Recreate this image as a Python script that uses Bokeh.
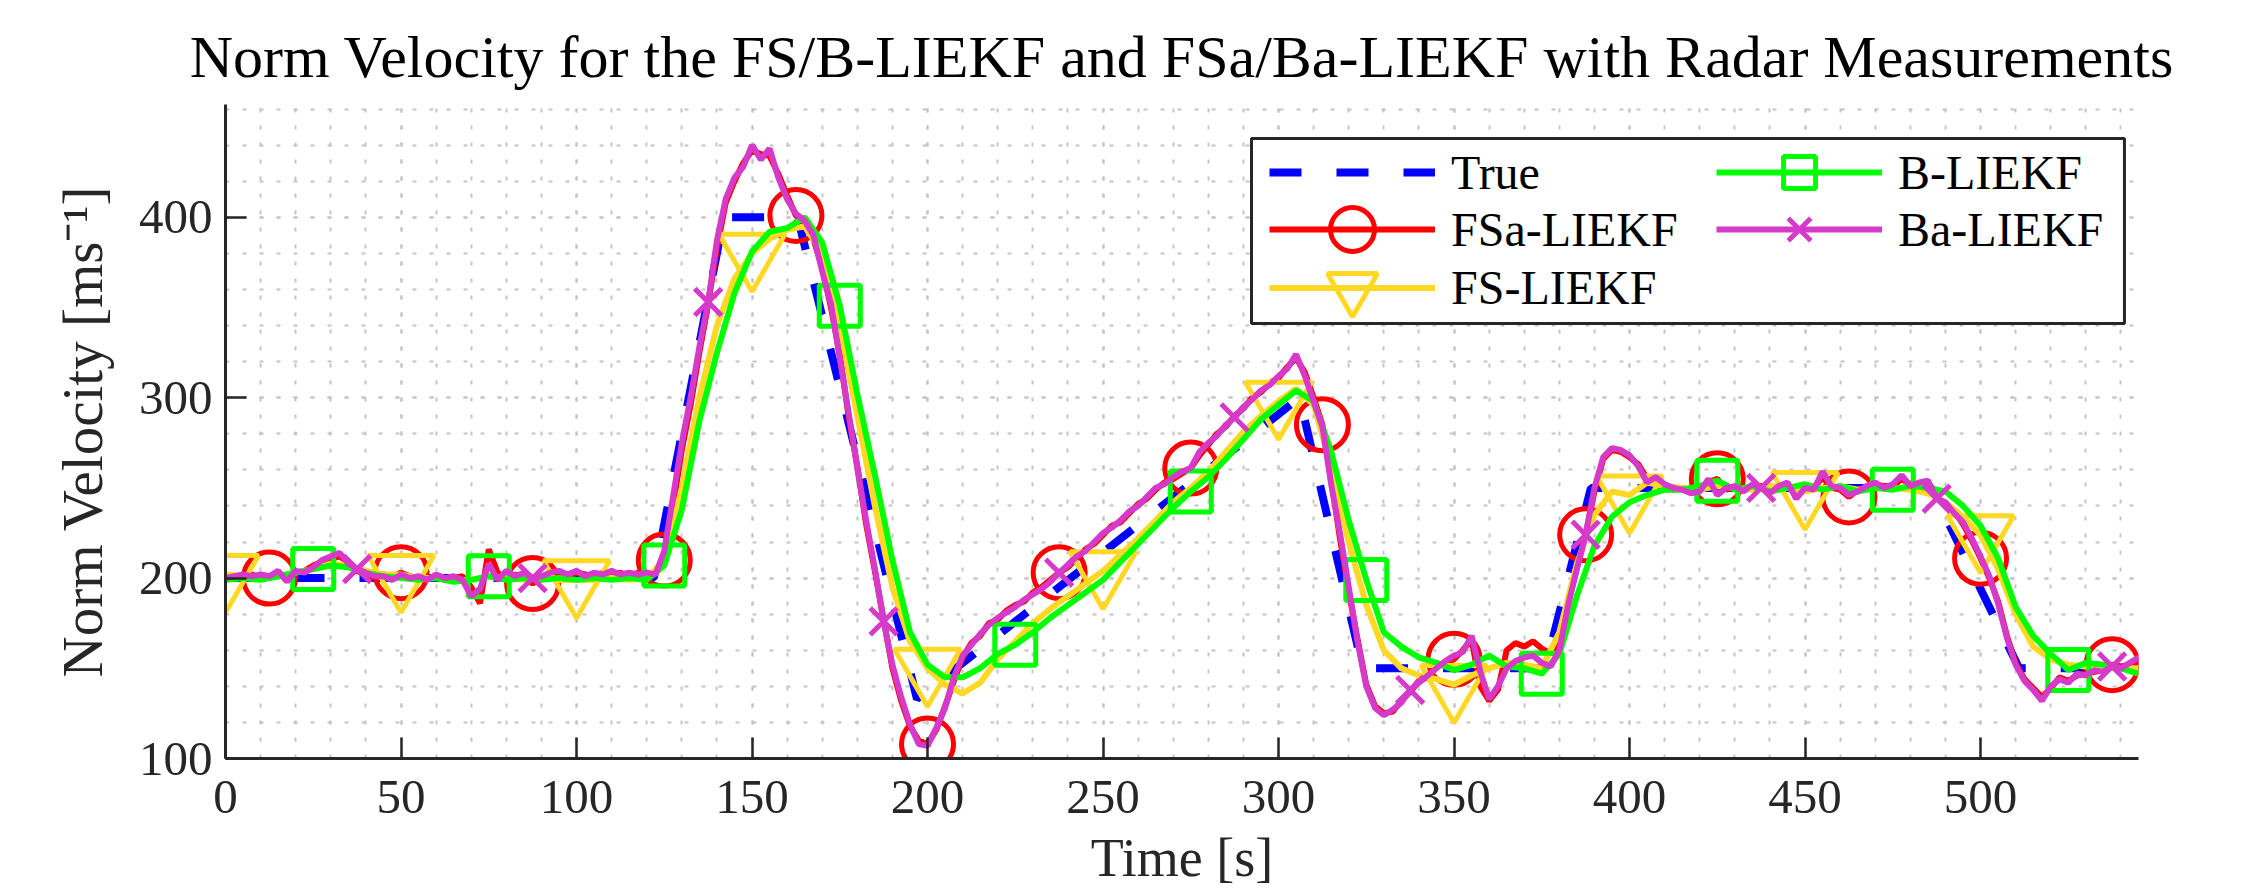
import numpy as np
from bokeh.plotting import figure
from bokeh.models import Range1d, FixedTicker, Legend, LegendItem, BoxAnnotation
from bokeh.embed import file_html
from bokeh.resources import INLINE

# ---------------- data ----------------
t_fine = np.arange(0, 545.01, 2.5)     # 219 samples (FSa / Ba)
t_coarse = np.arange(0, 545.01, 5.0)   # 110 samples (FS / B)

true_t = [0, 122, 142, 163, 197, 306, 324, 376, 389, 486, 511, 545]
true_v = [200, 200, 400, 400, 133, 300, 150, 150, 250, 250, 150, 150]

fsa_v = [
    201, 200, 201, 202, 200, 200, 203, 199, 203, 204, 207, 209, 211, 212, 209, 204, 202, 200, 202, 201,
    203, 201, 200, 200, 201, 199, 200, 201, 195, 186, 216, 203, 199, 202, 200, 197, 200, 202, 203, 201,
    203, 202, 201, 203, 202, 203, 201, 203, 202, 203, 210, 240, 271, 296, 325, 352, 383, 408, 420, 430,
    437, 435, 434, 424, 412, 401, 397, 388, 372, 350, 324, 290, 262, 230, 204, 177, 150, 132, 118, 110,
    108, 116, 129, 143, 156, 164, 168, 175, 177, 182, 185, 187, 192, 195, 199, 203, 206, 211, 216, 219,
    224, 229, 231, 236, 241, 244, 249, 253, 255, 258, 261, 268, 274, 280, 284, 290, 294, 300, 303, 308,
    311, 317, 322, 314, 300, 285, 255, 222, 193, 166, 141, 129, 125, 126, 132, 137, 143, 145, 151, 153,
    155, 160, 166, 140, 132, 138, 160, 164, 162, 165, 161, 158, 164, 186, 206, 224, 248, 266, 271, 270,
    267, 263, 255, 254, 251, 249, 250, 248, 249, 253, 255, 249, 250, 249, 251, 251, 248, 250, 252, 246,
    249, 250, 256, 250, 249, 245, 249, 250, 252, 251, 251, 255, 252, 252, 253, 245, 241, 237, 230, 221,
    211, 200, 187, 168, 153, 144, 139, 134, 139, 145, 143, 146, 147, 148, 149, 152, 151, 152, 155,
]

ba_v = [
    200, 201, 202, 201, 202, 201, 204, 198, 204, 203, 206, 210, 212, 214, 208, 205, 203, 201, 201, 199,
    202, 200, 201, 199, 202, 200, 201, 199, 190, 194, 208, 199, 204, 201, 203, 200, 201, 203, 204, 202,
    204, 201, 203, 202, 204, 202, 203, 202, 203, 202, 215, 245, 275, 300, 328, 353, 387, 410, 422, 428,
    440, 432, 438, 422, 410, 402, 398, 390, 370, 352, 322, 292, 261, 232, 205, 176, 152, 134, 119, 108,
    107, 117, 128, 145, 157, 163, 169, 174, 178, 181, 184, 188, 191, 194, 198, 203, 207, 212, 215, 220,
    225, 228, 232, 237, 240, 245, 250, 252, 256, 259, 261, 270, 275, 279, 285, 289, 295, 299, 304, 307,
    312, 316, 324, 312, 298, 284, 252, 225, 195, 165, 140, 128, 124, 127, 131, 138, 142, 146, 150, 154,
    157, 159, 168, 148, 133, 140, 150, 154, 156, 157, 153, 151, 160, 185, 205, 224, 250, 267, 272, 271,
    268, 262, 253, 256, 252, 250, 249, 247, 248, 255, 246, 250, 251, 248, 252, 250, 247, 251, 253, 244,
    250, 249, 259, 251, 250, 246, 248, 251, 253, 250, 252, 257, 251, 253, 254, 244, 242, 236, 231, 222,
    212, 201, 186, 167, 152, 143, 138, 132, 140, 144, 142, 147, 146, 149, 148, 151, 150, 153, 156,
]

fs_v = [
    202, 201, 200, 201, 203, 205, 208, 207, 204, 202,
    202, 200, 200, 199, 199, 201, 200, 199, 200, 199,
    199, 199, 200, 199, 200, 210, 250, 300, 340, 366,
    380, 388, 393, 395, 380, 340, 290, 240, 195, 165,
    150, 141, 136, 142, 155, 165, 175, 183, 190, 197,
    204, 213, 222, 232, 242, 250, 259, 270, 281, 290,
    298, 305, 296, 262, 220, 185, 160, 150, 146, 144,
    141, 146, 150, 153, 152, 150, 170, 208, 235, 248,
    246, 253, 251, 250, 249, 251, 250, 249, 251, 250,
    248, 250, 251, 249, 250, 250, 249, 247, 242, 234,
    224, 205, 180, 162, 155, 152, 151, 150, 150, 150,
]

b_v = [
    199, 200, 199, 201, 203, 205, 207, 206, 203, 201,
    200, 199, 200, 198, 199, 201, 199, 200, 199, 200,
    199, 200, 199, 200, 199, 207, 238, 287, 325, 358,
    381, 392, 394, 400, 386, 351, 302, 257, 210, 170,
    152, 145, 145, 150, 158, 163, 170, 178, 185, 192,
    199, 209, 219, 229, 239, 248, 256, 266, 277, 288,
    296, 304, 298, 270, 232, 199, 170, 162, 156, 153,
    149, 152, 157, 151, 150, 147, 158, 190, 218, 234,
    242, 246, 249, 249, 251, 254, 249, 251, 248, 250,
    252, 249, 251, 248, 250, 249, 251, 250, 248, 240,
    229, 211, 184, 168, 158, 149, 153, 152, 150, 147,
]

x_ticks = [0, 50, 100, 150, 200, 250, 300, 350, 400, 450, 500]
x_minor = list(range(0, 546, 10))
y_ticks = [100, 200, 300, 400]
y_minor = list(range(100, 463, 20))

# ---------------- styles ----------------
C_TRUE = "#0000FF"
C_FSA = "#FF0000"
C_FS = "#FFD823"
C_B = "#00FF00"
C_BA = "#D53ACB"
AX = "#262626"
FONT = "Liberation Serif"

W, H = 2245, 891
p = figure(width=W, height=H, output_backend="svg", toolbar_location=None,
           x_range=Range1d(0, 545), y_range=Range1d(100, 462.5),
           min_border_left=225, min_border_right=107, min_border_top=104, min_border_bottom=133,
           title="Norm Velocity for the FS/B-LIEKF and FSa/Ba-LIEKF with Radar Measurements")
p.outline_line_color = None
p.background_fill_color = "white"
p.border_fill_color = "white"

p.title.text_font = FONT
p.title.text_font_size = "60px"
p.title.text_font_style = "normal"
p.title.text_color = "#000000"
p.title.align = "center"
p.title.standoff = 29

# axes
p.xaxis.ticker = FixedTicker(ticks=x_ticks, minor_ticks=x_minor)
p.yaxis.ticker = FixedTicker(ticks=y_ticks, minor_ticks=y_minor)
p.xgrid.ticker = FixedTicker(ticks=x_ticks, minor_ticks=x_minor)
p.ygrid.ticker = FixedTicker(ticks=y_ticks, minor_ticks=y_minor)
for ax in (p.xaxis, p.yaxis):
    ax.axis_line_color = AX
    ax.axis_line_width = 3
    ax.major_tick_in = 21
    ax.major_tick_out = 0
    ax.minor_tick_in = 0
    ax.minor_tick_out = 0
    ax.major_tick_line_color = AX
    ax.major_tick_line_width = 2.5
    ax.major_label_text_font = FONT
    ax.major_label_text_font_size = "49px"
    ax.major_label_text_color = AX
    ax.axis_label_text_font = FONT
    ax.axis_label_text_font_style = "normal"
    ax.axis_label_text_color = AX
p.xaxis.major_label_standoff = 22
p.yaxis.major_label_standoff = 13
p.xaxis.axis_label = "Time [s]"
p.xaxis.axis_label_text_font_size = "54px"
p.xaxis.axis_label_standoff = 12
p.yaxis.axis_label = "Norm Velocity [ms\u207b\u00b9]"
p.yaxis.axis_label_text_font_size = "57px"
p.yaxis.axis_label_standoff = 22

# grid (dotted, major and minor alike)
for g in (p.xgrid, p.ygrid):
    g.grid_line_color = "#c4c4c4"
    g.grid_line_width = 2
    g.grid_line_dash = "4 13"
    g.minor_grid_line_color = "#c4c4c4"
    g.minor_grid_line_width = 2
    g.minor_grid_line_dash = "4 13"

# ---------------- glyphs ----------------
fsa = np.array(fsa_v, dtype=float)
ba = np.array(ba_v, dtype=float)
fs = np.array(fs_v, dtype=float)
bb = np.array(b_v, dtype=float)

r_true = p.line(true_t, true_v, line_color=C_TRUE, line_width=8, line_dash="32 35")

r_fsa = p.line(t_fine, fsa, line_color=C_FSA, line_width=6)
m_fsa = p.scatter(t_fine[5::15], fsa[5::15], marker="circle", size=52,
                  fill_color=None, line_color=C_FSA, line_width=5)

r_fs = p.line(t_coarse, fs, line_color=C_FS, line_width=6)
m_fs = p.scatter(t_coarse[0::10], fs[0::10], marker="inverted_triangle", size=66,
                 fill_color=None, line_color=C_FS, line_width=5)

r_b = p.line(t_coarse, bb, line_color=C_B, line_width=6)
m_b = p.scatter(t_coarse[5::10], bb[5::10], marker="square", size=41,
                fill_color=None, line_color=C_B, line_width=5)

r_ba = p.line(t_fine, ba, line_color=C_BA, line_width=6)
m_ba = p.scatter(t_fine[15::20], ba[15::20], marker="x", size=38,
                 line_color=C_BA, line_width=5)

# ---------------- legend ----------------
# white box with dark border behind the legend entries
p.add_layout(BoxAnnotation(left=292.3, right=541.0, top=443.7, bottom=341.1,
                           fill_color="white", fill_alpha=1.0,
                           line_color=AX, line_width=3, line_alpha=1.0))


def add_entry(label, renderers, x_off, center_from_bottom, glyph_h):
    lg = Legend(items=[LegendItem(label=label, renderers=renderers)],
                location=(x_off, center_from_bottom - glyph_h / 2),
                orientation="vertical")
    lg.label_text_font = FONT
    lg.label_text_font_size = "48px"
    lg.label_text_color = "#000000"
    lg.glyph_width = 166
    lg.glyph_height = glyph_h
    lg.label_height = 20
    lg.label_standoff = 16
    lg.spacing = 0
    lg.padding = 0
    lg.margin = 0
    lg.border_line_color = None
    lg.background_fill_alpha = 0.0
    p.add_layout(lg)


add_entry("True", [r_true], 1044, 586, 60)
add_entry("FSa-LIEKF", [r_fsa, m_fsa], 1044, 529, 110)
add_entry("FS-LIEKF", [r_fs, m_fs], 1044, 471, 125)
add_entry("B-LIEKF", [r_b, m_b], 1491, 586, 80)
add_entry("Ba-LIEKF", [r_ba, m_ba], 1491, 529, 80)

open("out.html", "w").write(file_html(p, INLINE))
